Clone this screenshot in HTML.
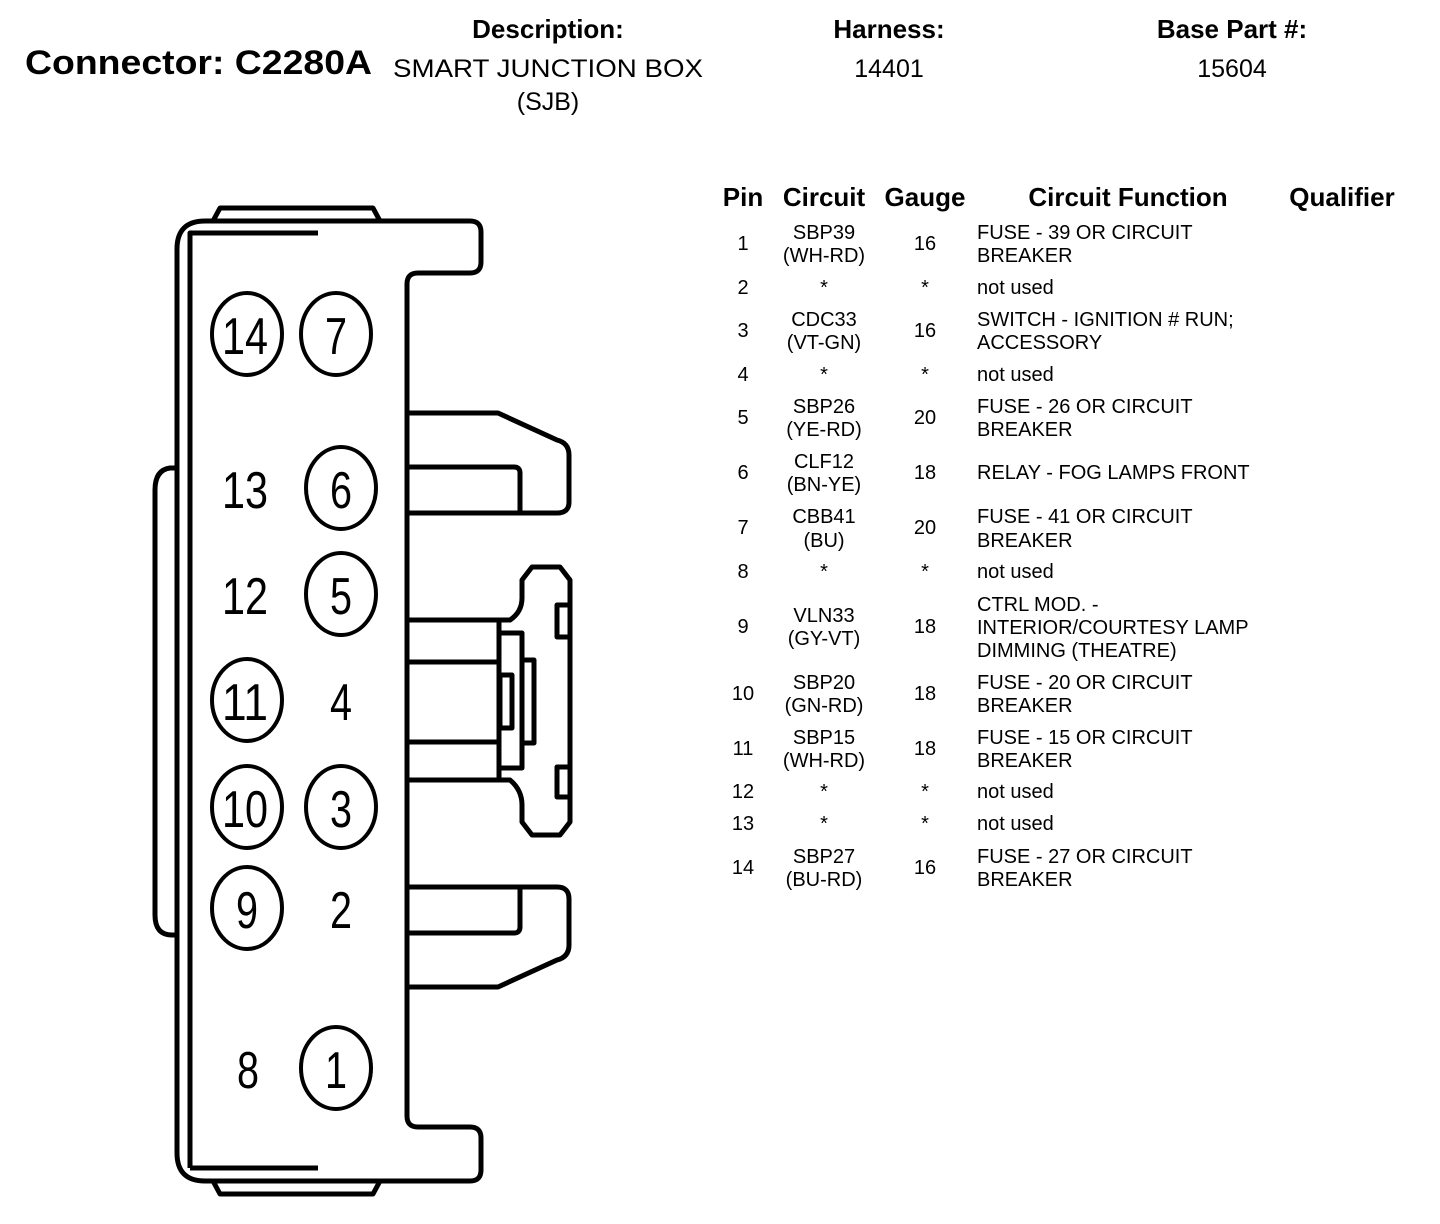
<!DOCTYPE html>
<html><head><meta charset="utf-8"><style>
html,body{margin:0;padding:0;background:#fff;}
svg{display:block;}
text{font-family:"Liberation Sans",Arial,sans-serif;fill:#000;}
.h{font-weight:bold;font-size:26px;text-anchor:middle;}
.n{font-size:25px;text-anchor:middle;}
.t{font-size:20px;}
.c{text-anchor:middle;}
.d{font-size:52px;text-anchor:middle;}
</style></head><body>
<svg width="1440" height="1224" viewBox="0 0 1440 1224" xmlns="http://www.w3.org/2000/svg">
<text x="25" y="74" font-size="34" font-weight="bold" textLength="347" lengthAdjust="spacingAndGlyphs">Connector: C2280A</text>
<text class="h" x="548" y="38">Description:</text>
<text class="n" x="548" y="77" textLength="310" lengthAdjust="spacingAndGlyphs">SMART JUNCTION BOX</text>
<text class="n" x="548" y="110">(SJB)</text>
<text class="h" x="889" y="38">Harness:</text>
<text class="n" x="889" y="77">14401</text>
<text class="h" x="1232" y="38">Base Part #:</text>
<text class="n" x="1232" y="77">15604</text>

<g fill="none" stroke="#000" stroke-width="5" stroke-linejoin="round">
  <path d="M470 221 Q481 221 481 232 L481 262 Q481 273 470 273 L418 273 Q407 273 407 284 L407 1116 Q407 1127 418 1127 L470 1127 Q481 1127 481 1138 L481 1170 Q481 1181 470 1181 L205 1181 Q177 1181 177 1153 L177 249 Q177 221 205 221 Z"/>
  <path d="M213 221 L220 208 L373 208 L380 221"/>
  <path d="M213 1181 L220 1194 L373 1194 L380 1181"/>
  <path d="M190 1168 L190 233 L318 233"/>
  <path d="M190 1168 L318 1168"/>
  <path d="M177 468 L170 468 Q155 470 155 490 L155 915 Q155 935 172 935 L177 935"/>
  <path d="M407 413 L498 413 L557 440 Q569 443 569 455 L569 502 Q569 513 557 513 L407 513"/>
  <path d="M407 467 L514 467 Q520 467 520 473 L520 513"/>
  <path d="M407 987 L498 987 L557 960 Q569 957 569 945 L569 899 Q569 887 557 887 L407 887"/>
  <path d="M407 933 L514 933 Q520 933 520 927 L520 887"/>
  <path d="M407 620 L510 620 Q522 612 522 598 L522 580 L532 567 L560 567 L570 580 L570 822 L560 835 L532 835 L522 822 L522 805 Q522 790 510 780 L407 780"/>
  <path d="M499 620 L499 780"/>
  <path d="M407 662 L499 662 M407 742 L499 742 M407 662 L407 742"/>
  <rect x="499" y="633" width="23" height="135"/>
  <rect x="500" y="675" width="12" height="53"/>
  <rect x="522" y="660" width="12" height="83"/>
  <rect x="557" y="605" width="13" height="32"/>
  <rect x="557" y="767" width="13" height="30"/>
  <ellipse cx="247" cy="334" rx="35" ry="41" stroke-width="4"/>
  <ellipse cx="336" cy="334" rx="35" ry="41" stroke-width="4"/>
  <ellipse cx="341" cy="488" rx="35" ry="41" stroke-width="4"/>
  <ellipse cx="341" cy="594" rx="35" ry="41" stroke-width="4"/>
  <ellipse cx="247" cy="700" rx="35" ry="41" stroke-width="4"/>
  <ellipse cx="247" cy="807" rx="35" ry="41" stroke-width="4"/>
  <ellipse cx="341" cy="807" rx="35" ry="41" stroke-width="4"/>
  <ellipse cx="247" cy="908" rx="35" ry="41" stroke-width="4"/>
  <ellipse cx="336" cy="1068" rx="35" ry="41" stroke-width="4"/>
</g>
<g>
  <text class="d" x="245" y="354" textLength="46" lengthAdjust="spacingAndGlyphs">14</text>
  <text class="d" x="336" y="354" textLength="22" lengthAdjust="spacingAndGlyphs">7</text>
  <text class="d" x="245" y="508" textLength="46" lengthAdjust="spacingAndGlyphs">13</text>
  <text class="d" x="341" y="508" textLength="22" lengthAdjust="spacingAndGlyphs">6</text>
  <text class="d" x="245" y="614" textLength="46" lengthAdjust="spacingAndGlyphs">12</text>
  <text class="d" x="341" y="614" textLength="22" lengthAdjust="spacingAndGlyphs">5</text>
  <text class="d" x="245" y="720" textLength="46" lengthAdjust="spacingAndGlyphs">11</text>
  <text class="d" x="341" y="720" textLength="22" lengthAdjust="spacingAndGlyphs">4</text>
  <text class="d" x="245" y="827" textLength="46" lengthAdjust="spacingAndGlyphs">10</text>
  <text class="d" x="341" y="827" textLength="22" lengthAdjust="spacingAndGlyphs">3</text>
  <text class="d" x="247" y="928" textLength="22" lengthAdjust="spacingAndGlyphs">9</text>
  <text class="d" x="341" y="928" textLength="22" lengthAdjust="spacingAndGlyphs">2</text>
  <text class="d" x="248" y="1088" textLength="22" lengthAdjust="spacingAndGlyphs">8</text>
  <text class="d" x="336" y="1088" textLength="22" lengthAdjust="spacingAndGlyphs">1</text>
</g>

<g font-weight="bold" font-size="26">
  <text x="743" y="206" text-anchor="middle">Pin</text>
  <text x="824" y="206" text-anchor="middle">Circuit</text>
  <text x="925" y="206" text-anchor="middle">Gauge</text>
  <text x="1128" y="206" text-anchor="middle">Circuit Function</text>
  <text x="1342" y="206" text-anchor="middle">Qualifier</text>
</g>
<g class="t" font-size="20">
  <text class="c" x="743" y="250">1</text>
  <text class="c" x="824" y="239">SBP39</text><text class="c" x="824" y="262">(WH-RD)</text>
  <text class="c" x="925" y="250">16</text>
  <text x="977" y="239">FUSE - 39 OR CIRCUIT</text><text x="977" y="262">BREAKER</text>
  <text class="c" x="743" y="294">2</text><text class="c" x="824" y="294">*</text><text class="c" x="925" y="294">*</text><text x="977" y="294">not used</text>
  <text class="c" x="743" y="337">3</text>
  <text class="c" x="824" y="326">CDC33</text><text class="c" x="824" y="349">(VT-GN)</text>
  <text class="c" x="925" y="337">16</text>
  <text x="977" y="326">SWITCH - IGNITION # RUN;</text><text x="977" y="349">ACCESSORY</text>
  <text class="c" x="743" y="381">4</text><text class="c" x="824" y="381">*</text><text class="c" x="925" y="381">*</text><text x="977" y="381">not used</text>
  <text class="c" x="743" y="424">5</text>
  <text class="c" x="824" y="413">SBP26</text><text class="c" x="824" y="436">(YE-RD)</text>
  <text class="c" x="925" y="424">20</text>
  <text x="977" y="413">FUSE - 26 OR CIRCUIT</text><text x="977" y="436">BREAKER</text>
  <text class="c" x="743" y="479">6</text>
  <text class="c" x="824" y="468">CLF12</text><text class="c" x="824" y="491">(BN-YE)</text>
  <text class="c" x="925" y="479">18</text>
  <text x="977" y="479">RELAY - FOG LAMPS FRONT</text>
  <text class="c" x="743" y="534">7</text>
  <text class="c" x="824" y="523">CBB41</text><text class="c" x="824" y="547">(BU)</text>
  <text class="c" x="925" y="534">20</text>
  <text x="977" y="523">FUSE - 41 OR CIRCUIT</text><text x="977" y="547">BREAKER</text>
  <text class="c" x="743" y="578">8</text><text class="c" x="824" y="578">*</text><text class="c" x="925" y="578">*</text><text x="977" y="578">not used</text>
  <text class="c" x="743" y="633">9</text>
  <text class="c" x="824" y="622">VLN33</text><text class="c" x="824" y="645">(GY-VT)</text>
  <text class="c" x="925" y="633">18</text>
  <text x="977" y="611">CTRL MOD. -</text><text x="977" y="634">INTERIOR/COURTESY LAMP</text><text x="977" y="657">DIMMING (THEATRE)</text>
  <text class="c" x="743" y="700">10</text>
  <text class="c" x="824" y="689">SBP20</text><text class="c" x="824" y="712">(GN-RD)</text>
  <text class="c" x="925" y="700">18</text>
  <text x="977" y="689">FUSE - 20 OR CIRCUIT</text><text x="977" y="712">BREAKER</text>
  <text class="c" x="743" y="755">11</text>
  <text class="c" x="824" y="744">SBP15</text><text class="c" x="824" y="767">(WH-RD)</text>
  <text class="c" x="925" y="755">18</text>
  <text x="977" y="744">FUSE - 15 OR CIRCUIT</text><text x="977" y="767">BREAKER</text>
  <text class="c" x="743" y="798">12</text><text class="c" x="824" y="798">*</text><text class="c" x="925" y="798">*</text><text x="977" y="798">not used</text>
  <text class="c" x="743" y="830">13</text><text class="c" x="824" y="830">*</text><text class="c" x="925" y="830">*</text><text x="977" y="830">not used</text>
  <text class="c" x="743" y="874">14</text>
  <text class="c" x="824" y="863">SBP27</text><text class="c" x="824" y="886">(BU-RD)</text>
  <text class="c" x="925" y="874">16</text>
  <text x="977" y="863">FUSE - 27 OR CIRCUIT</text><text x="977" y="886">BREAKER</text>
</g>
</svg>
</body></html>
